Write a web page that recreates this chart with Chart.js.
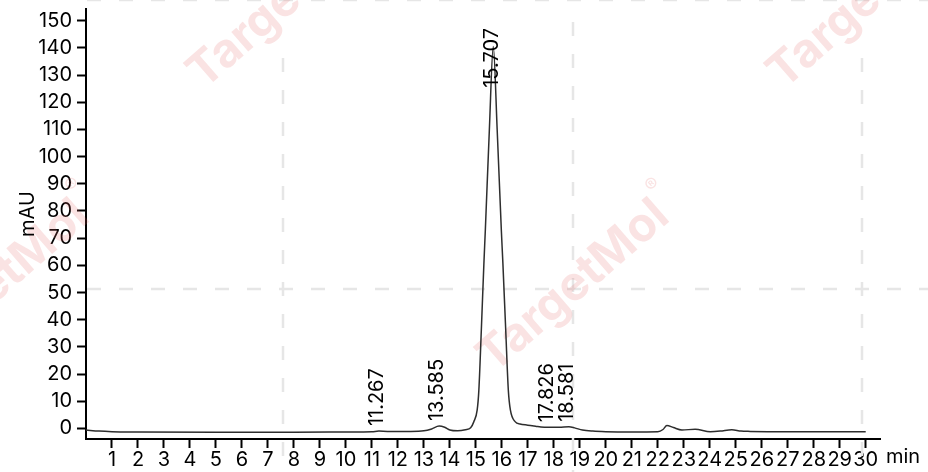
<!DOCTYPE html>
<html>
<head>
<meta charset="utf-8">
<script src="https://cdn.jsdelivr.net/npm/chart.js@4/dist/chart.umd.min.js"></script>
<style>
  body { margin: 0; background: #fff; }
  canvas { display: block; }
</style>
</head>
<body>
<canvas id="myChart" width="928" height="472"></canvas>
<script>
// retention time (min) and absorbance (mAU)
const times = [0.0, 0.5, 1.0, 2.0, 5.0, 8.0, 10.0, 11.0, 11.27, 11.6, 12.5, 13.0, 13.3, 13.585, 13.8, 14.0, 14.3, 14.6, 14.8,
  14.92, 15.05, 15.115, 15.21, 15.31, 15.365, 15.52, 15.67, 15.82, 15.98, 16.04, 16.15, 16.25, 16.33, 16.52, 16.7, 17.0,
  17.3, 17.5, 17.826, 18.2, 18.581, 18.8, 19.1, 19.5, 20.0, 21.0, 22.0, 22.2, 22.35, 22.6, 22.93, 23.44, 24.02, 24.4,
  24.85, 25.2, 25.56, 27.0, 30.0];
const mAU = [-0.6, -1.0, -1.2, -1.3, -1.4, -1.4, -1.3, -1.2, -1.0, -1.1, -1.1, -0.9, -0.2, 0.85, 0.4, -0.6, -0.9, -0.5, 0.2,
  2.4, 6.7, 14, 36, 60.8, 73, 110, 140.5, 110, 73, 60.8, 36, 14, 6.7, 2.4, 1.6, 1.2,
  0.8, 0.5, 0.4, 0.4, 0.6, 0.2, -0.6, -1.0, -1.2, -1.3, -1.2, -0.4, 1.1, 0.3, -0.6, -0.3, -1.2, -1.0,
  -0.5, -1.0, -1.1, -1.2, -1.2];

const peakTimes = [11.267, 13.585, 15.707, 17.826, 18.581];
const peakHeights = [-1.0, 0.85, 140.5, 0.4, 0.6];
const peakLabels = ['11.267', '13.585', '15.707', '17.826', '18.581'];

const xTickValues = [1, 2, 3, 4, 5, 6, 7, 8, 9, 10, 11, 12, 13, 14, 15, 16, 17, 18, 19, 20, 21, 22, 23, 24, 25, 26, 27, 28, 29, 30];
const yTickValues = [0, 10, 20, 30, 40, 50, 60, 70, 80, 90, 100, 110, 120, 130, 140, 150];

const FONT = 'Inter';
Chart.defaults.font.family = FONT;
Chart.defaults.font.size = 20;
Chart.defaults.color = '#000';

// faint TargetMol watermark with its dashed tile grid
const watermark = {
    id: 'watermark',
    beforeDatasetsDraw(chart) {
        const ctx = chart.ctx;
        ctx.save();
        ctx.strokeStyle = '#e6e6e6';
        ctx.lineWidth = 2.5;
        ctx.setLineDash([14, 18]);
        [[283, 58], [573, 22], [862, 58]].forEach(([x, y0]) => {
            ctx.beginPath();
            ctx.moveTo(x, y0);
            ctx.lineTo(x, 472);
            ctx.stroke();
        });
        [0, 289].forEach((y) => {
            ctx.beginPath();
            ctx.moveTo(87, y);
            ctx.lineTo(928, y);
            ctx.stroke();
        });
        ctx.setLineDash([]);
        ctx.fillStyle = 'rgba(225, 100, 100, 0.18)';
        ctx.font = 'bold 44px ' + FONT;
        const w = ctx.measureText('TargetMol').width;
        const k = 235 / w;
        [[204, 90], [784, 90], [494, 374], [-86, 374]].forEach(([x, y]) => {
            ctx.save();
            ctx.translate(x, y);
            ctx.rotate(-41 * Math.PI / 180);
            ctx.scale(k, k);
            ctx.fillText('TargetMol', 0, 0);
            ctx.font = '18px ' + FONT;
            ctx.fillText('®', w + 2, -30);
            ctx.restore();
        });
        ctx.restore();
    }
};

// retention time labels, vertical, above each peak
const peakText = {
    id: 'peakText',
    afterDatasetsDraw(chart) {
        const ctx = chart.ctx;
        const xs = chart.scales.x;
        const ys = chart.scales.y;
        ctx.save();
        ctx.font = '20px ' + FONT;
        ctx.fillStyle = '#000';
        ctx.textAlign = 'left';
        ctx.textBaseline = 'middle';
        peakTimes.forEach((t, i) => {
            const w = ctx.measureText(peakLabels[i]).width;
            let y0 = ys.getPixelForValue(peakHeights[i]) - 5;
            const minStart = chart.chartArea.top + 19 + w;
            if (y0 < minStart) y0 = minStart;
            ctx.save();
            ctx.translate(xs.getPixelForValue(t) - 2, y0);
            ctx.rotate(-Math.PI / 2);
            ctx.fillText(peakLabels[i], 0, 0);
            ctx.restore();
        });
        // axis titles
        ctx.textBaseline = 'top';
        ctx.fillText('min', 886, 447);
        ctx.save();
        ctx.translate(28, 214);
        ctx.rotate(-Math.PI / 2);
        ctx.textAlign = 'center';
        ctx.textBaseline = 'middle';
        ctx.fillText('mAU', 0, 0);
        ctx.restore();
        ctx.restore();
    }
};

const ctx = document.getElementById('myChart');
const myChart = new Chart(ctx, {
    type: 'line',
    data: {
        datasets: [{
            data: times.map((t, i) => ({x: t, y: mAU[i]})),
            borderColor: '#2e2e2e',
            borderWidth: 1.5,
            pointRadius: 0,
            fill: false,
            cubicInterpolationMode: 'monotone',
        }]
    },
    options: {
        responsive: false,
        animation: false,
        layout: {
            padding: {top: 9, right: 48, left: 0, bottom: 0},
        },
        plugins: {
            legend: {display: false},
            tooltip: {enabled: false},
        },
        scales: {
            x: {
                type: 'linear',
                min: 0,
                max: 30.55,
                afterBuildTicks: (s) => { s.ticks = xTickValues.map((v) => ({value: v})); },
                afterFit: (s) => { s.height = 33; s.paddingLeft = 0; s.paddingRight = 0; },
                ticks: {
                    autoSkip: false,
                    maxRotation: 0,
                    padding: 0,
                    color: '#000',
                    callback: (v) => v,
                },
                grid: {
                    drawOnChartArea: false,
                    drawTicks: true,
                    tickLength: 9,
                    tickWidth: 2,
                    color: '#000',
                },
                border: {display: true, color: '#000', width: 2},
            },
            y: {
                min: -3.9,
                max: 154.3,
                afterBuildTicks: (s) => { s.ticks = yTickValues.map((v) => ({value: v})); },
                afterFit: (s) => { s.width = 86; s.paddingTop = 0; s.paddingBottom = 0; },
                ticks: {
                    padding: 5,
                    color: '#000',
                    callback: (v) => v,
                },
                grid: {
                    drawOnChartArea: false,
                    drawTicks: true,
                    tickLength: 9,
                    tickWidth: 2,
                    color: '#000',
                },
                border: {display: true, color: '#000', width: 2},
            }
        }
    },
    plugins: [watermark, peakText],
});
</script>
</body>
</html>
